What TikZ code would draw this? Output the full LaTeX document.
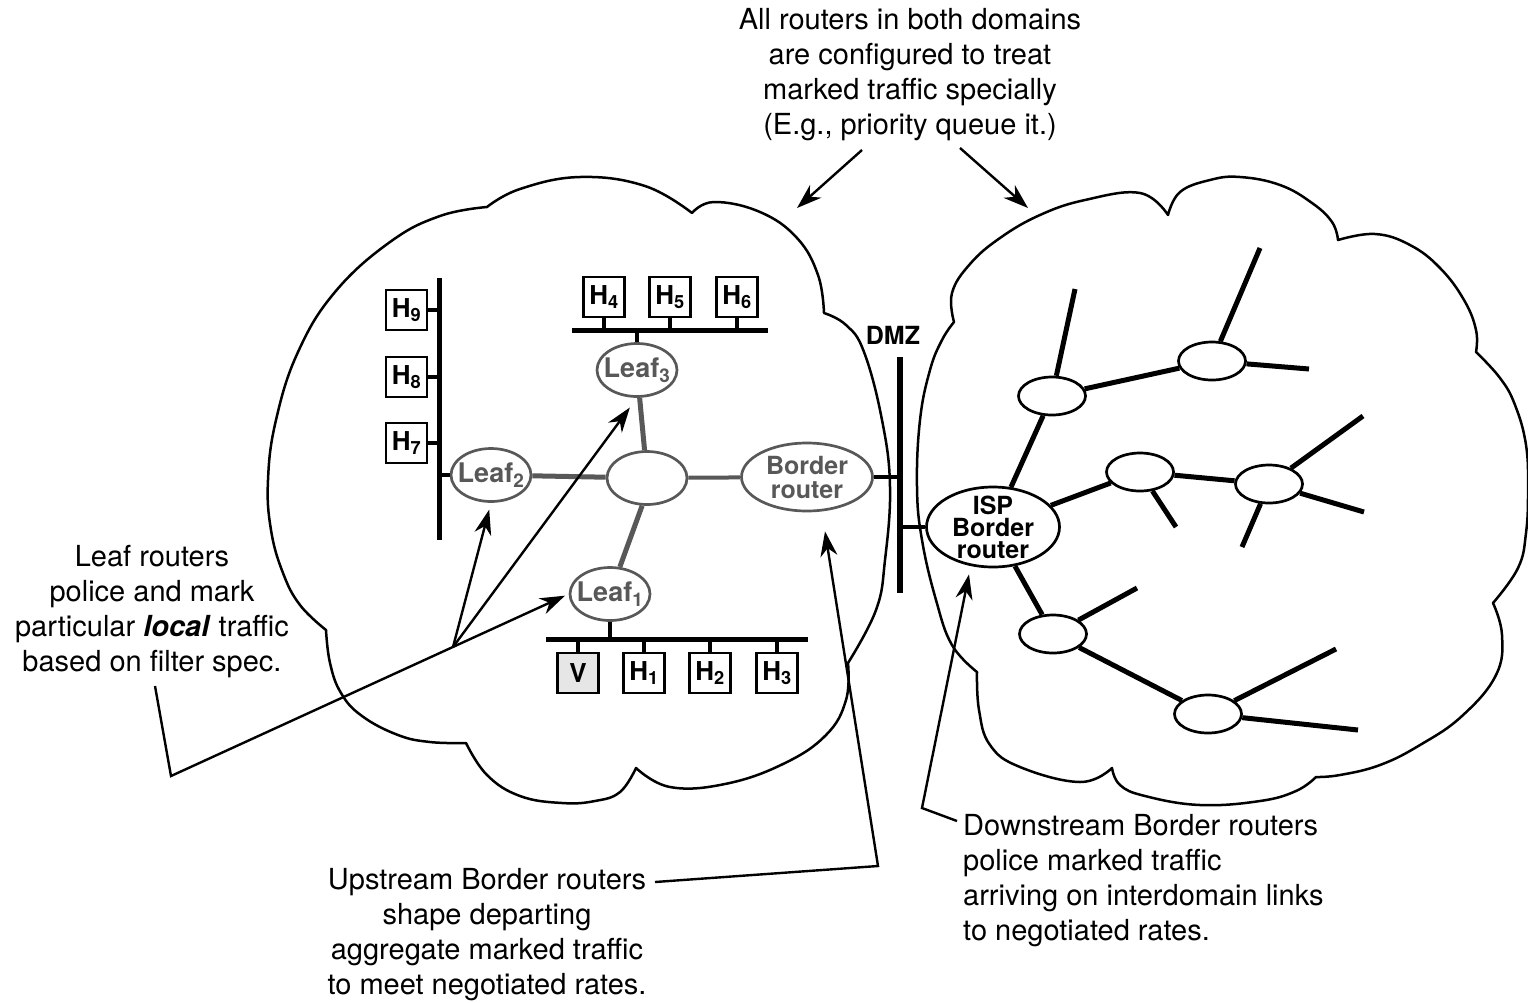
\documentclass[tikz,border=0pt]{standalone}
\usepackage{fontspec}
\setmainfont{TeX Gyre Heros}
\usetikzlibrary{shapes.geometric,arrows.meta,calc}
\definecolor{gcol}{RGB}{88,88,88}
\definecolor{vfill}{RGB}{230,230,230}
\begin{document}
\begin{tikzpicture}[x=1pt,y=-1pt,
  cloud/.style={line width=2.5pt,line join=round,line cap=round},
  gell/.style={ellipse,draw=gcol,line width=2.7pt,inner sep=0pt,minimum width=80pt,minimum height=53pt},
  glab/.style={text=gcol,font=\fontsize{27}{23}\selectfont\bfseries,align=center,inner sep=0pt},
  rell/.style={ellipse,draw,line width=2.7pt,inner sep=0pt,minimum width=67pt,minimum height=38pt},
  host/.style={draw,line width=2.8pt,minimum width=41pt,minimum height=40pt,inner sep=0pt,font=\fontsize{26}{26}\selectfont\bfseries},
  bus/.style={line width=5pt},
  stub/.style={line width=3.2pt},
  glink/.style={draw=gcol,line width=5pt},
  rlink/.style={line width=5pt},
  note/.style={font=\fontsize{29}{35}\selectfont,align=center,inner sep=0pt},
  callout/.style={line width=2.4pt,line join=miter},
  arr/.style={callout,-{Stealth[length=25pt,width=17pt,inset=8pt]}}]
\useasboundingbox (0,0) rectangle (1528,1002);

% ---------- clouds ----------
\draw[cloud] plot[smooth,tension=.7] coordinates {(487,207) (520,189) (580,177) (645,186) (692,213)}
 -- plot[smooth,tension=.7] coordinates {(692,213) (714,202) (760,212) (797,238) (818,275) (824,313)}
 -- plot[smooth,tension=.7] coordinates {(824,313) (846,325) (864,352) (882,420) (890,487) (885,560) (876,610) (848,663)}
 -- plot[smooth,tension=.7] coordinates {(848,663) (846,700) (826,735) (783,764) (725,784) (670,787) (636,768)}
 -- plot[smooth,tension=.7] coordinates {(636,768) (620,792) (595,801) (562,803) (520,796) (487,775) (466,743)}
 -- plot[smooth,tension=.7] coordinates {(466,743) (430,742) (398,735) (362,716) (341,693) (330,663) (326,630)}
 -- plot[smooth,tension=.7] coordinates {(326,630) (300,605) (283,573) (271,530) (268,480) (276,420) (298,352) (335,292) (390,242) (440,216) (487,207)} -- cycle;

\draw[cloud] plot[smooth,tension=.7] coordinates {(954,322) (952,293) (970,264) (1000,238) (1040,215) (1085,200) (1140,193) (1168,215)}
 -- plot[smooth,tension=.7] coordinates {(1168,215) (1180,192) (1210,180) (1240,177) (1280,185) (1312,203) (1332,222) (1338,240)}
 -- plot[smooth,tension=.7] coordinates {(1338,240) (1375,234) (1410,245) (1440,268) (1464,300) (1476,330) (1476,352)}
 -- plot[smooth,tension=.7] coordinates {(1476,352) (1500,378) (1515,405) (1526,445) (1528,490) (1526,533) (1518,568) (1493,603)}
 -- plot[smooth,tension=.7] coordinates {(1493,603) (1502,635) (1496,675) (1462,716) (1420,745) (1380,765) (1340,775) (1316,777)}
 -- plot[smooth,tension=.7] coordinates {(1316,777) (1296,791) (1260,801) (1200,805) (1145,796) (1120,785) (1112,768)}
 -- plot[smooth,tension=.7] coordinates {(1112,768) (1080,782) (1020,767) (990,745) (979,710) (977,672)}
 -- plot[smooth,tension=.7] coordinates {(977,672) (952,645) (936,600) (922,540) (917,487) (920,420) (930,370) (942,340) (954,322)} -- cycle;

% ---------- left network ----------
\node[gell,label={[glab]center:Leaf\textsubscript{3}}] (leaf3) at (637,370) {};
\node[gell,label={[glab]center:Leaf\textsubscript{2}}] (leaf2) at (491,475) {};
\node[gell] (hub) at (647,478) {};
\node[gell,label={[glab]center:Leaf\textsubscript{1}}] (leaf1) at (610,594) {};
\node[gell,minimum width=131pt,minimum height=68pt,label={[glab,font=\fontsize{25}{24}\selectfont\bfseries]center:Border\\router}] (border) at (807,477) {};

\draw[glink] (leaf2) -- (hub);
\draw[glink] (hub.95) -- (leaf3);
\draw[glink] (hub.260) -- (leaf1.70);
\draw[glink,line width=4pt] (hub) -- (border);

% left vertical bus
\coordinate (busLt) at (439,278);
\coordinate (busLb) at (439,540);
\draw[bus] (busLt) -- (busLb);
\node[host] (h9) at (406.5,310) {H\textsubscript{9}};
\node[host] (h8) at (406.5,377) {H\textsubscript{8}};
\node[host] (h7) at (406.5,443) {H\textsubscript{7}};
\foreach \h in {h9,h8,h7} \draw[stub] (\h.east) -- (\h.east -| busLt);
\draw[stub] (leaf2.west) -- (leaf2.west -| busLt);

% top bus
\coordinate (busTl) at (572,330);
\coordinate (busTr) at (768,330);
\draw[bus] (busTl) -- (busTr);
\node[host] (h4) at (604,297) {H\textsubscript{4}};
\node[host] (h5) at (670,297) {H\textsubscript{5}};
\node[host] (h6) at (737,297) {H\textsubscript{6}};
\foreach \h in {h4,h5,h6} \draw[stub] (\h.south) -- (\h.south |- busTl);
\draw[stub] (leaf3.north) -- (leaf3.north |- busTl);

% bottom bus
\coordinate (busBl) at (546,639);
\coordinate (busBr) at (808,639);
\draw[bus] (busBl) -- (busBr);
\node[host,fill=vfill] (v) at (578,673) {V};
\node[host] (h1) at (644,673) {H\textsubscript{1}};
\node[host] (h2) at (710,673) {H\textsubscript{2}};
\node[host] (h3) at (777,673) {H\textsubscript{3}};
\foreach \h in {v,h1,h2,h3} \draw[stub] (\h.north) -- (\h.north |- busBl);
\draw[stub] (leaf1.south) -- (leaf1.south |- busBl);

% ---------- DMZ ----------
\node[font=\fontsize{25}{25}\selectfont\bfseries,inner sep=0pt] (dmz) at (893,335) {DMZ};
\coordinate (dmzt) at (900,357);
\coordinate (dmzb) at (900,593);
\draw[line width=6pt] (dmzt) -- (dmzb);
\node[ellipse,draw,line width=2.7pt,inner sep=0pt,minimum width=133pt,minimum height=80pt,
      label={[font=\fontsize{25}{22}\selectfont\bfseries,align=center,inner sep=0pt]center:ISP\\Border\\router}] (isp) at (993,527) {};
\draw[line width=4pt] (border.east) -- (border.east -| dmzt);
\draw[line width=4pt] (isp.west) -- (isp.west -| dmzt);

% ---------- right network ----------
\node[rell] (e1) at (1052,396) {};
\node[rell] (e2) at (1212,361) {};
\node[rell] (e3) at (1140,472) {};
\node[rell] (e4) at (1269,484) {};
\node[rell] (e5) at (1053,634) {};
\node[rell] (e6) at (1208,714) {};
\draw[rlink] (isp) -- (e1);
\draw[rlink] (isp) -- (e3);
\draw[rlink] (isp) -- (e5);
\draw[rlink] (e1) -- (e2);
\draw[rlink] (e3) -- (e4);
\draw[rlink] (e5) -- (e6);
\coordinate (f1) at (1075,289);
\coordinate (f2) at (1260,248);
\coordinate (f3) at (1309,369);
\coordinate (f4) at (1176,527);
\coordinate (f5) at (1363,416);
\coordinate (f6) at (1364,512);
\coordinate (f7) at (1242,547);
\coordinate (f8) at (1137,588);
\coordinate (f9) at (1336,649);
\coordinate (f10) at (1358,730);
\draw[rlink] (e1) -- (f1);
\draw[rlink] (e2) -- (f2);
\draw[rlink] (e2) -- (f3);
\draw[rlink] (e3) -- (f4);
\draw[rlink] (e4) -- (f5);
\draw[rlink] (e4) -- (f6);
\draw[rlink] (e4) -- (f7);
\draw[rlink] (e5) -- (f8);
\draw[rlink] (e6) -- (f9);
\draw[rlink] (e6) -- (f10);

% ---------- annotations ----------
\node[note] (topnote) at (910,75) {All routers in both domains\\are configured to treat\\marked traffic specially\\(E.g., priority queue it.)};
\coordinate (ta1) at (862,150);
\coordinate (ta2) at (797,208);
\coordinate (tb1) at (960,148);
\coordinate (tb2) at (1028,208);
\draw[arr] (ta1) -- (ta2);
\draw[arr] (tb1) -- (tb2);

\node[note] (leafnote) at (152,612) {Leaf routers\\police and mark\\particular \textbf{\textit{local}} traffic\\based on filter spec.};
\coordinate (lc1) at (155,686);
\coordinate (lc2) at (171,776);
\coordinate (fan) at (453,647);
\draw[arr,shorten >=4pt] (lc1) -- (lc2) -- (leaf1.west);
\draw[arr,shorten >=7pt] (fan) -- (leaf2.south);
\draw[arr,shorten >=12pt] (fan) -- (leaf3.south);

\node[note] (upnote) at (487,935) {Upstream Border routers\\shape departing\\aggregate marked traffic\\to meet negotiated rates.};
\coordinate (uc1) at (655,882);
\coordinate (uc2) at (878,866);
\draw[arr] (uc1) -- (uc2) -- ($(border.south)+(18,19)$);

\node[note,align=left,anchor=west] (downnote) at (963,881) {Downstream Border routers\\police marked traffic\\arriving on interdomain links\\to negotiated rates.};
\coordinate (dc1) at (957,821);
\coordinate (dc2) at (922,808);
\draw[arr] (dc1) -- (dc2) -- ($(isp.south)+(-24,6)$);
\end{tikzpicture}
\end{document}
